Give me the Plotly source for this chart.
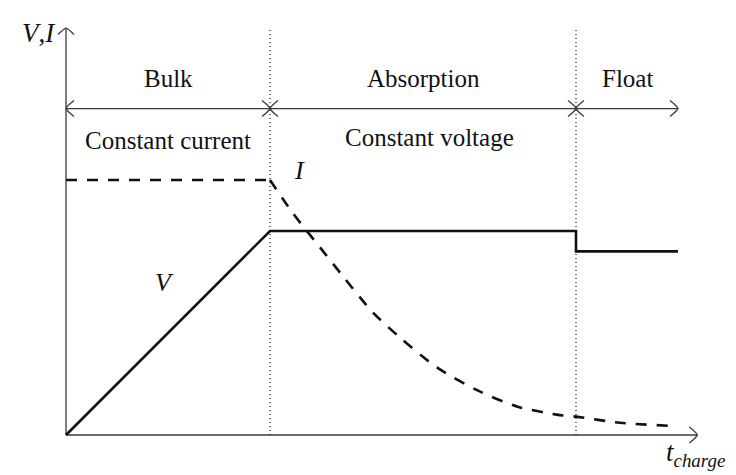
import plotly.graph_objects as go

# Charging-stage boundaries and end of the time axis (arbitrary time units)
stage_edges = [0.0, 2.0, 5.0, 6.0]
stage_names = ["Bulk", "Absorption", "Float"]
stage_modes = ["Constant current", "Constant voltage"]

# Battery voltage V(t)
v_t = [0.0, 2.0, 5.0, 5.0, 6.0]
v_val = [0.0, 2.0, 2.0, 1.8, 1.8]

# Charging current I(t): constant during bulk, then decaying
i_flat_t = [0.0, 2.0]
i_flat_val = [2.5, 2.5]
i_decay_t = [2.0, 2.22, 2.49, 2.72, 3.01, 3.27, 3.64, 4.03, 4.42, 4.81, 5.0, 5.43, 5.92]
i_decay_val = [2.5, 2.18, 1.84, 1.55, 1.20, 0.96, 0.66, 0.44, 0.28, 0.20, 0.18, 0.12, 0.09]

X_END = 6.19   # time-axis arrow tip
Y_END = 3.99   # V,I-axis arrow tip
Y_PHASE = 3.2  # height of the stage arrows

PX = 1 / 102.0  # one screen pixel in data units (same scale on both axes)

AXIS_COL = "#3a3a3a"
INK = "#111111"
FONT = "Liberation Serif"

fig = go.Figure()

# Dashed current curve
dash_line = dict(color=INK, width=2.6, dash="11px,10px")
fig.add_trace(go.Scatter(x=i_flat_t, y=i_flat_val, mode="lines", line=dash_line,
                         hoverinfo="skip"))
fig.add_trace(go.Scatter(x=i_decay_t, y=i_decay_val, mode="lines",
                         line=dict(dash_line, shape="spline", smoothing=0.8),
                         hoverinfo="skip"))
# Solid voltage curve
fig.add_trace(go.Scatter(x=v_t, y=v_val, mode="lines",
                         line=dict(color=INK, width=2.6), hoverinfo="skip"))

shapes = []

def seg(x0, y0, x1, y1, color=AXIS_COL, width=1.3, dash=None):
    line = dict(color=color, width=width)
    if dash:
        line["dash"] = dash
    shapes.append(dict(type="line", xref="x", yref="y", x0=x0, y0=y0, x1=x1, y1=y1,
                       line=line, layer="below"))

def head(x, y, direction, color=AXIS_COL):
    """Open, slightly curved arrow head with its tip at (x, y)."""
    L, W = 8 * PX, 8 * PX
    if direction == "right":
        a, b = (x - L, y + W), (x - L, y - W)
        c1, c2 = (x - 1 * PX, y + 2.5 * PX), (x - 1 * PX, y - 2.5 * PX)
    elif direction == "left":
        a, b = (x + L, y + W), (x + L, y - W)
        c1, c2 = (x + 1 * PX, y + 2.5 * PX), (x + 1 * PX, y - 2.5 * PX)
    else:  # up
        a, b = (x - W, y - 0.8 * L), (x + W, y - 0.8 * L)
        c1, c2 = (x - 2.5 * PX, y - 1 * PX), (x + 2.5 * PX, y - 1 * PX)
    path = (f"M {a[0]},{a[1]} Q {c1[0]},{c1[1]} {x},{y} "
            f"Q {c2[0]},{c2[1]} {b[0]},{b[1]}")
    shapes.append(dict(type="path", xref="x", yref="y", path=path,
                       line=dict(color=color, width=1.3), layer="below"))

# Axes
seg(0, 0, X_END, 0)
seg(0, 0, 0, Y_END)
head(X_END, 0, "right")
head(0, Y_END, "up")

# Dotted stage separators
for xb in stage_edges[1:3]:
    seg(xb, 0, xb, Y_END, color=INK, width=1.2, dash="1px,3px")

# Stage arrows
seg(stage_edges[0], Y_PHASE, stage_edges[-1], Y_PHASE)
head(stage_edges[0], Y_PHASE, "left")
for xb in stage_edges[1:3]:
    head(xb, Y_PHASE, "right")
    head(xb, Y_PHASE, "left")
head(stage_edges[-1], Y_PHASE, "right")

annotations = []

def label(text, x, y, size=25, xanchor="center"):
    annotations.append(dict(text=text, x=x, y=y, xref="x", yref="y", showarrow=False,
                            xanchor=xanchor, yanchor="middle",
                            font=dict(family=FONT, size=size, color=INK)))

for name, x0, x1 in zip(stage_names, stage_edges[:-1], stage_edges[1:]):
    label(name, (x0 + x1) / 2, 3.5)
label(stage_modes[0], 1.0, 2.89)
label(stage_modes[1], 3.56, 2.92)

label("<i>V</i>,<i>I</i>", -0.08, 3.94, size=27, xanchor="right")
label("<i>V</i>", 0.97, 1.50, size=26)
label("<i>I</i>", 2.29, 2.59, size=26)
label("<i>t</i><sub><i>charge</i></sub>", 6.17, -0.19, size=27)

fig.update_layout(
    width=736, height=475,
    margin=dict(l=0, r=0, t=0, b=0),
    paper_bgcolor="white", plot_bgcolor="white",
    showlegend=False,
    xaxis=dict(range=[-66 * PX, 670 * PX], visible=False, fixedrange=True),
    yaxis=dict(range=[-40 * PX, 435 * PX], visible=False, fixedrange=True),
    shapes=shapes,
    annotations=annotations,
)

fig.write_html("out.html")
